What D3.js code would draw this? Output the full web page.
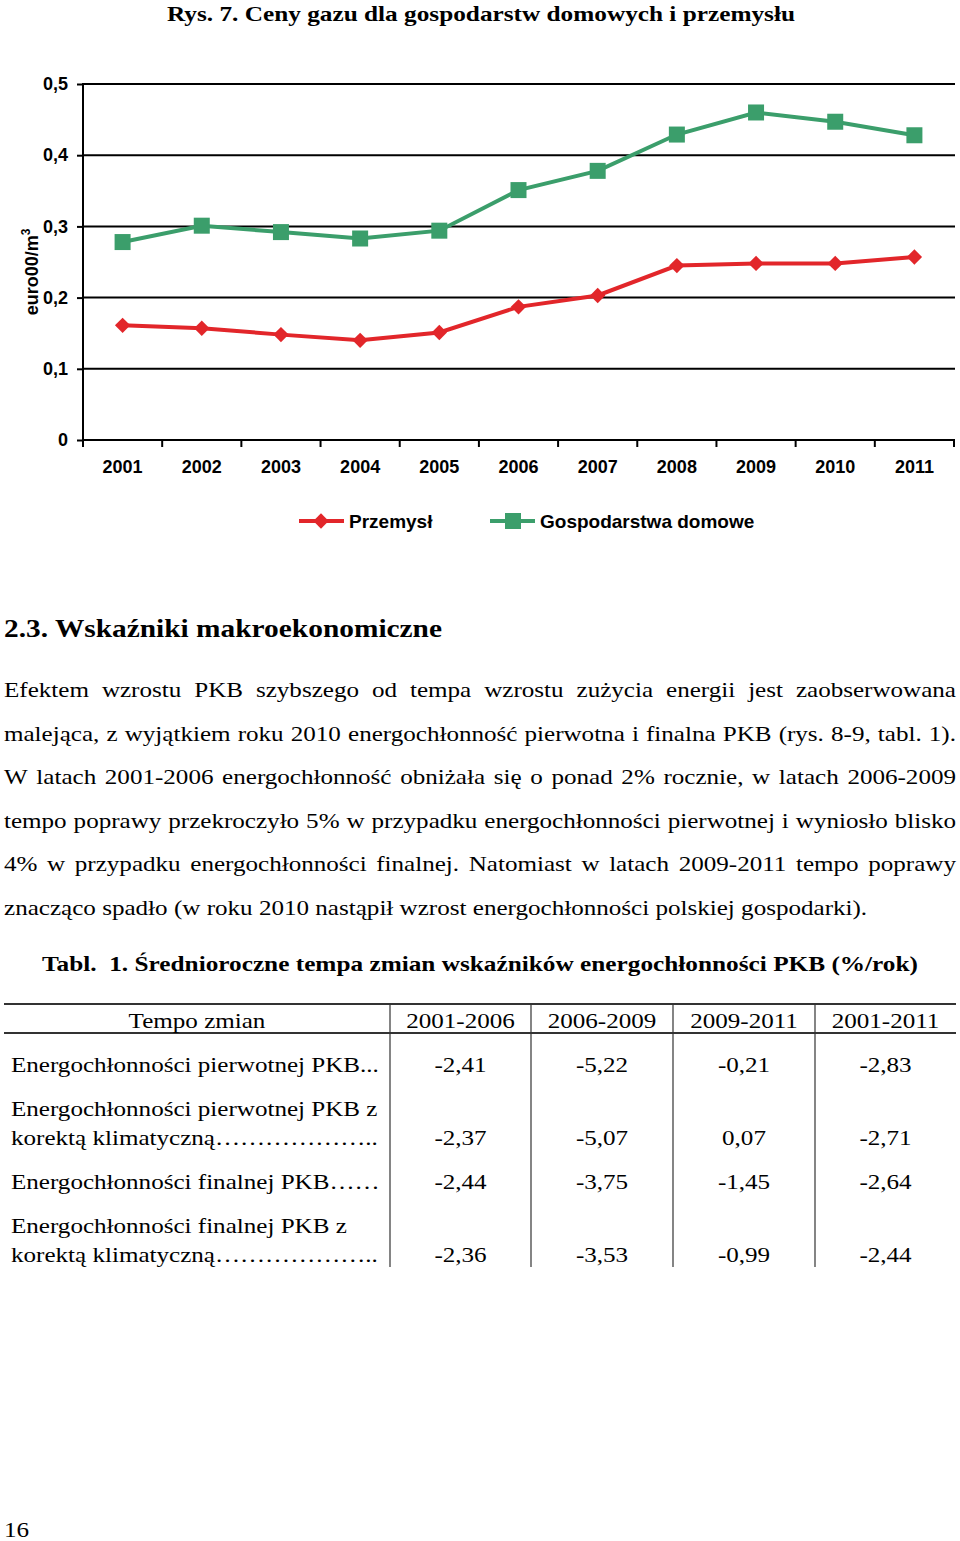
<!DOCTYPE html>
<html lang="pl">
<head>
<meta charset="utf-8">
<title>Ceny gazu</title>
<style>
    body { margin: 0; background: #fff; }
    svg { display: block; }
    .serif { font-family: "Liberation Serif", "DejaVu Serif", serif; fill: #000; }
    .sans { font-family: "Liberation Sans", Arial, sans-serif; fill: #000; font-weight: bold; }
    .axis text { font-family: "Liberation Sans", Arial, sans-serif; font-weight: bold; font-size: 18px; fill: #000; }
    .axis path { display: none; }
    .axis line { stroke: #000; stroke-width: 2px; }
</style>
</head>
<body>
<script src="https://cdn.jsdelivr.net/npm/d3@7"></script>
<script>
    // chart data
    var years = ["2001", "2002", "2003", "2004", "2005", "2006", "2007", "2008", "2009", "2010", "2011"];
    var przemysl = [0.161, 0.157, 0.148, 0.140, 0.151, 0.187, 0.203, 0.245, 0.248, 0.248, 0.257];
    var gospodarstwa = [0.278, 0.301, 0.292, 0.283, 0.294, 0.351, 0.378, 0.429, 0.460, 0.447, 0.428];
    var yTicks = [0, 0.1, 0.2, 0.3, 0.4, 0.5];
    var seriesNames = ["Przemysł", "Gospodarstwa domowe"];

    // text + table data
    var paragraph = [
        "Efektem wzrostu PKB szybszego od tempa wzrostu zużycia energii jest zaobserwowana",
        "malejąca, z wyjątkiem roku 2010 energochłonność pierwotna i finalna PKB (rys. 8-9, tabl. 1).",
        "W latach 2001-2006 energochłonność obniżała się o ponad 2% rocznie, w latach 2006-2009",
        "tempo poprawy przekroczyło 5% w przypadku energochłonności pierwotnej i wyniosło blisko",
        "4% w przypadku energochłonności finalnej. Natomiast w latach 2009-2011 tempo poprawy",
        "znacząco spadło (w roku 2010 nastąpił wzrost energochłonności polskiej gospodarki)."
    ];
    var tableHead = ["Tempo zmian", "2001-2006", "2006-2009", "2009-2011", "2001-2011"];
    var rowLabels = [
        ["Energochłonności pierwotnej PKB..."],
        ["Energochłonności pierwotnej PKB z", "korektą klimatyczną……………….."],
        ["Energochłonności finalnej PKB……"],
        ["Energochłonności finalnej PKB z", "korektą klimatyczną……………….."]
    ];
    var rowValues = [
        [-2.41, -5.22, -0.21, -2.83],
        [-2.37, -5.07, 0.07, -2.71],
        [-2.44, -3.75, -1.45, -2.64],
        [-2.36, -3.53, -0.99, -2.44]
    ];

    var W = 960, H = 1541;
    var SX = 1.14; // the scanned page text is a bit wider than the font
    var svg = d3.select("body").append("svg").attr("width", W).attr("height", H);

    // serif text, horizontally stretched like the source page
    function serif(x, y, str, size, anchor) {
        return svg.append("text").attr("class", "serif")
            .attr("transform", "translate(" + x + "," + y + ") scale(" + SX + ",1)")
            .attr("text-anchor", anchor || "start")
            .style("font-size", size + "px")
            .text(str);
    }

    svg.append("text").attr("class", "serif")
        .attr("x", 167).attr("y", 21)
        .attr("textLength", 628).attr("lengthAdjust", "spacingAndGlyphs")
        .style("font-size", "21px").style("font-weight", "bold")
        .text("Rys. 7. Ceny gazu dla gospodarstw domowych i przemysłu");

    // ---- chart ----
    var pLeft = 83, pRight = 954, pTop = 84, pBottom = 440;
    var x = d3.scaleBand().domain(years).range([pLeft, pRight]);
    var y = d3.scaleLinear().domain([0, 0.5]).range([pBottom, pTop]);

    var fmt = function(d) { return d === 0 ? "0" : d3.format(".1f")(d).replace(".", ","); };

    svg.append("g").attr("class", "grid")
        .selectAll("line").data(yTicks.filter(function(d) { return d > 0; }))
        .enter().append("line")
        .attr("x1", pLeft).attr("x2", pRight + 1)
        .attr("y1", function(d) { return y(d); }).attr("y2", function(d) { return y(d); })
        .attr("stroke", "#000").attr("stroke-width", 2);

    var yAxis = svg.append("g").attr("class", "axis")
        .attr("transform", "translate(" + pLeft + ",0)")
        .call(d3.axisLeft(y).tickValues(yTicks).tickFormat(fmt).tickSize(6).tickPadding(9));
    yAxis.append("line").attr("x1", 0).attr("x2", 0).attr("y1", pTop - 1).attr("y2", pBottom + 1);

    var xAxis = svg.append("g").attr("class", "axis")
        .attr("transform", "translate(0," + pBottom + ")")
        .call(d3.axisBottom(x).tickSize(0).tickPadding(20));
    xAxis.selectAll(".sep").data(d3.range(years.length + 1))
        .enter().append("line").attr("class", "sep")
        .attr("x1", function(i) { return pLeft + i * x.step(); })
        .attr("x2", function(i) { return pLeft + i * x.step(); })
        .attr("y1", 0).attr("y2", 7);
    xAxis.append("line").attr("x1", pLeft).attr("x2", pRight + 1).attr("y1", 0).attr("y2", 0);

    svg.append("text").attr("class", "sans")
        .attr("transform", "translate(38,272) rotate(-90)")
        .attr("text-anchor", "middle")
        .style("font-size", "18px")
        .text("euro00/m")
        .append("tspan").attr("dy", -8).style("font-size", "12px").text("3");

    var red = "#e2262a", green = "#3b9e6b";
    var cx = function(d, i) { return x(years[i]) + x.bandwidth() / 2; };
    var line = d3.line().x(cx).y(function(d) { return y(d); });

    svg.append("path").datum(gospodarstwa)
        .attr("d", line).attr("fill", "none")
        .attr("stroke", green).attr("stroke-width", 4);
    svg.selectAll(".sq").data(gospodarstwa).enter().append("rect").attr("class", "sq")
        .attr("x", function(d, i) { return cx(d, i) - 8; })
        .attr("y", function(d) { return y(d) - 8; })
        .attr("width", 16).attr("height", 16).attr("fill", green);

    svg.append("path").datum(przemysl)
        .attr("d", line).attr("fill", "none")
        .attr("stroke", red).attr("stroke-width", 4);
    var diamond = d3.symbol().type(d3.symbolDiamond2).size(150);
    svg.selectAll(".dm").data(przemysl).enter().append("path").attr("class", "dm")
        .attr("d", diamond)
        .attr("transform", function(d, i) { return "translate(" + cx(d, i) + "," + y(d) + ")"; })
        .attr("fill", red);

    // legend
    var legX = [299, 490];
    var legColors = [red, green];
    seriesNames.forEach(function(name, i) {
        var g = svg.append("g").attr("transform", "translate(" + legX[i] + ",521)");
        g.append("line").attr("x1", 0).attr("x2", 45).attr("stroke", legColors[i]).attr("stroke-width", 4);
        if (i === 0) {
            g.append("path").attr("d", diamond).attr("transform", "translate(22,0)").attr("fill", red);
        } else {
            g.append("rect").attr("x", 15).attr("y", -8).attr("width", 16).attr("height", 16).attr("fill", green);
        }
        g.append("text").attr("class", "sans").attr("x", 50).attr("y", 7)
            .style("font-size", "19px").text(name);
    });

    // ---- text section ----
    svg.append("text").attr("class", "serif")
        .attr("x", 4).attr("y", 637)
        .attr("textLength", 438).attr("lengthAdjust", "spacingAndGlyphs")
        .style("font-size", "25px").style("font-weight", "bold")
        .text("2.3. Wskaźniki makroekonomiczne");

    // justified paragraph: words placed one by one
    var lineY = [697, 741, 784, 828, 871, 915];
    paragraph.forEach(function(txt, li) {
        var words = txt.split(" ");
        var nodes = words.map(function(w) { return serif(0, lineY[li], w, 22); });
        var widths = nodes.map(function(n) { return n.node().getComputedTextLength() * SX; });
        var total = d3.sum(widths);
        var last = li === paragraph.length - 1;
        var gap = last ? 6.3 : (956 - 4 - total) / (words.length - 1);
        var pos = 4;
        nodes.forEach(function(n, k) {
            n.attr("transform", "translate(" + pos + "," + lineY[li] + ") scale(" + SX + ",1)");
            pos += widths[k] + gap;
        });
    });

    svg.append("text").attr("class", "serif")
        .attr("x", 42).attr("y", 971)
        .attr("textLength", 876).attr("lengthAdjust", "spacingAndGlyphs")
        .style("font-size", "22px").style("font-weight", "bold").attr("xml:space", "preserve")
        .text("Tabl.  1. Średnioroczne tempa zmian wskaźników energochłonności PKB (%/rok)");

    // ---- table ----
    var colEdges = [4, 390, 531, 673, 815, 956];
    var tableTop = 1004, headLine = 1033, tableBottom = 1267;
    [tableTop, headLine].forEach(function(yy) {
        svg.append("line").attr("x1", 4).attr("x2", 956).attr("y1", yy).attr("y2", yy)
            .attr("stroke", "#333").attr("stroke-width", 2);
    });
    svg.selectAll(".vdiv").data(colEdges.slice(1, 5)).enter().append("line").attr("class", "vdiv")
        .attr("x1", function(d) { return d; }).attr("x2", function(d) { return d; })
        .attr("y1", tableTop).attr("y2", tableBottom)
        .attr("stroke", "#333").attr("stroke-width", 1.2);

    tableHead.forEach(function(h, i) {
        serif((colEdges[i] + colEdges[i + 1]) / 2, 1028, h, 22, "middle");
    });

    var rowBase = [1072, 1145, 1189, 1262];
    var valFmt = function(v) { return d3.format(".2f")(v).replace("−", "-").replace(".", ","); };
    rowLabels.forEach(function(lines, r) {
        lines.forEach(function(t, k) {
            serif(11, rowBase[r] - (lines.length - 1 - k) * 29, t, 22);
        });
        rowValues[r].forEach(function(v, c) {
            serif((colEdges[c + 1] + colEdges[c + 2]) / 2, rowBase[r], valFmt(v), 22, "middle");
        });
    });

    serif(4, 1537, "16", 22);
</script>
</body>
</html>
